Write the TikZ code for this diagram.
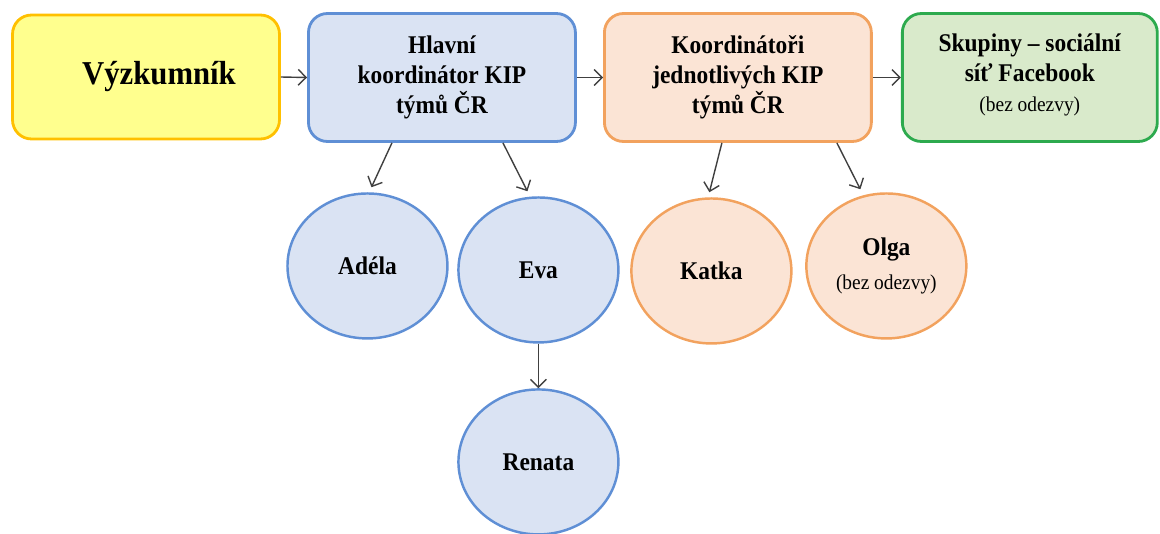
\documentclass[tikz,border=0pt]{standalone}
\usepackage{fontspec}
\setmainfont{Liberation Serif}[FakeStretch=0.92]
\usetikzlibrary{shapes.geometric, arrows.meta, calc}

\definecolor{yelfill}{HTML}{FFFF8E}
\definecolor{yeldraw}{HTML}{FFC000}
\definecolor{bluefill}{HTML}{DAE3F3}
\definecolor{bluedraw}{HTML}{5F8FD5}
\definecolor{orafill}{HTML}{FBE4D5}
\definecolor{oradraw}{HTML}{F2A25E}
\definecolor{grnfill}{HTML}{D9EACB}
\definecolor{grndraw}{HTML}{2DAA4E}
\definecolor{arrowgray}{HTML}{404040}

\newcommand{\notefont}{\mdseries\fontsize{12}{15}\selectfont}

\tikzstyle{box} = [rectangle, rounded corners=0.38cm,
minimum width=5.34cm,
minimum height=2.56cm,
text centered,
line width=1.6pt,
font=\bfseries\fontsize{14.5}{17}\selectfont]
\tikzstyle{yelbox} = [box, draw=yeldraw, fill=yelfill,
minimum height=2.48cm,
font=\bfseries\fontsize{19}{22}\selectfont]
\tikzstyle{bluebox} = [box, draw=bluedraw, fill=bluefill]
\tikzstyle{orabox} = [box, draw=oradraw, fill=orafill]
\tikzstyle{grnbox} = [box, draw=grndraw, fill=grnfill,
minimum width=5.1cm]
\tikzstyle{person} = [ellipse,
minimum width=3.2cm,
minimum height=2.9cm,
text centered,
line width=1.4pt,
font=\bfseries\fontsize{14.5}{17}\selectfont]
\tikzstyle{blueperson} = [person, draw=bluedraw, fill=bluefill]
\tikzstyle{oraperson} = [person, draw=oradraw, fill=orafill]
\tikzstyle{arrow} = [line width=0.8pt, draw=arrowgray, ->,
>={Straight Barb[length=4.5pt, width=9pt]}]

\begin{document}
\begin{tikzpicture}[node distance=5.92cm, x=0.02cm, y=-0.02cm]
\useasboundingbox (0,0) rectangle (1160,534);

\node (vyzk) [yelbox] at (146,77) {\hspace*{0.52cm}Výzkumník};
\node (hlavni) [bluebox, right of=vyzk, yshift=-0.01cm, align=center] {Hlavní\\koordinátor KIP\\týmů ČR};
\node (koord) [orabox, right of=hlavni, align=center] {Koordinátoři\\jednotlivých KIP\\týmů ČR};
\node (skup) [grnbox, right of=koord, xshift=-0.08cm, align=center] {Skupiny – sociální\\síť Facebook\\{\notefont (bez odezvy)}\vspace{0.1cm}};

\node (adela) [blueperson, below of=hlavni, node distance=3.77cm, xshift=-1.49cm] {Adéla};
\node (eva) [blueperson, below of=hlavni, node distance=3.85cm, xshift=1.93cm] {Eva};
\node (renata) [blueperson, below of=eva, node distance=3.84cm] {Renata};
\node (katka) [oraperson, below of=koord, node distance=3.87cm, xshift=-0.53cm] {Katka};
\node (olga) [oraperson, below of=koord, node distance=3.87cm, xshift=2.97cm, align=center, yshift=0.1cm] {Olga\\[2pt]{\notefont (bez odezvy)}};

\draw [arrow] (vyzk.east) -- (hlavni.west);
\draw [arrow] (hlavni.east) -- (koord.west);
\draw [arrow] (koord.east) -- (skup.west);
\draw [arrow] ($(hlavni.south)+(-50,0)$) -- ($(adela.north)+(4,-5)$);
\draw [arrow] ($(hlavni.south)+(61,0)$) -- ($(eva.north)+(-11,-5)$);
\draw [arrow] ($(koord.south)+(-16,0)$) -- ($(katka.north)+(-2,-5)$);
\draw [arrow] ($(koord.south)+(99,0)$) -- ($(olga.north)+(-26,-3)$);
\draw [arrow] (eva.south) -- (renata.north);

\end{tikzpicture}
\end{document}
